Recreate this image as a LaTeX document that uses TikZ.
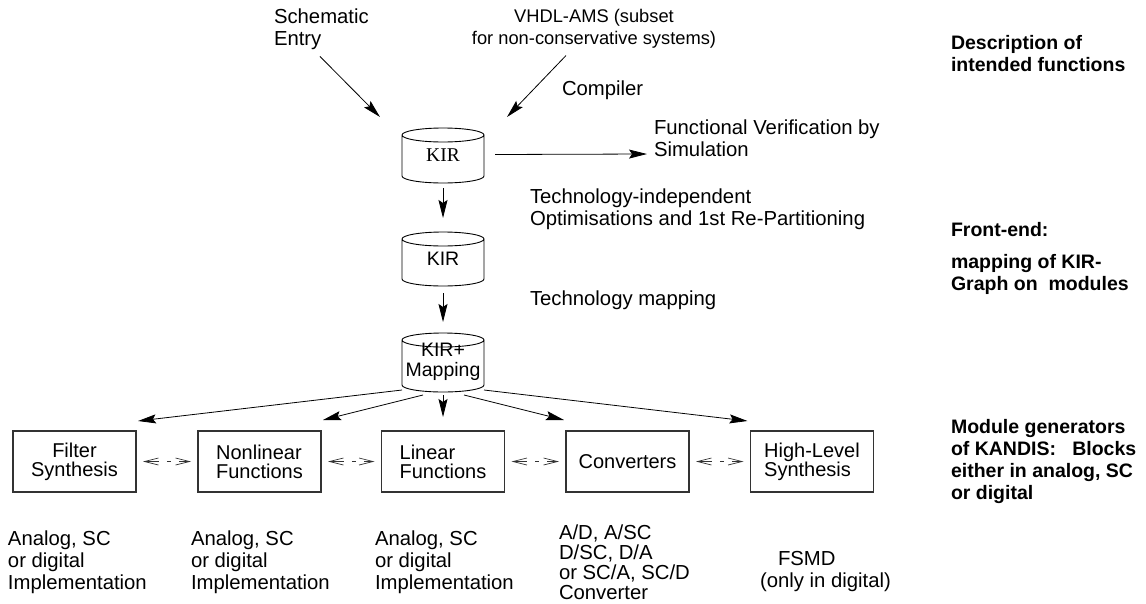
\documentclass[tikz,border=0pt]{standalone}
\usepackage{fontspec}
\setmainfont{Liberation Sans}
\newfontfamily\kirserif{Liberation Serif}
\usetikzlibrary{arrows.meta,calc}
\newcommand\drawcyl[1]{\draw[cylline] ([yshift=-7pt]#1.north west) arc[start angle=180,end angle=540,x radius=41pt,y radius=7pt] -- ([yshift=7pt]#1.south west) arc[start angle=180,end angle=360,x radius=41pt,y radius=7pt] -- ([yshift=-7pt]#1.north east);}
\begin{document}
\begin{tikzpicture}[x=1pt,y=1pt,
 every node/.style={inner sep=0pt, outer sep=0pt},
 txt/.style={font=\fontsize{20.3}{22}\selectfont, align=left},
 lbl/.style={font=\fontsize{19.5}{22}\selectfont\bfseries, align=left, anchor=west},
 box/.style={draw=black!80, line width=1.1pt, minimum width=123pt, minimum height=61pt, font=\fontsize{20}{19}\selectfont},
 cyl/.style={minimum width=82pt, font=\fontsize{19.5}{19}\selectfont},
 cylline/.style={line width=0.9pt},
 arr/.style={-{Stealth[length=18pt,width=9pt,inset=3pt]}, line width=0.8pt},
 dbl/.style={{Straight Barb[length=14pt,width=7pt]}-{Straight Barb[length=14pt,width=7pt]}, line width=0.7pt, black!80, dash pattern=on 14pt off 8pt on 4pt off 8pt, shorten <=7pt, shorten >=7pt},
]
\useasboundingbox (0,0) rectangle (1146,-603);

% texts at top
\node[txt, anchor=west] (sch) at (274,-29) {Schematic\\Entry};
\node[txt, align=center, font=\fontsize{18.3}{22}\selectfont] (vhdl) at (594,-29) {VHDL-AMS (subset\\for non-conservative systems)};
\node[txt, anchor=west] (comp) at (562,-90) {Compiler};
\node[txt, anchor=west] (fv) at (654,-138) {Functional Verification by\\Simulation};
\node[txt, anchor=west] (ti) at (530,-209) {Technology-independent\\Optimisations and 1st Re-Partitioning};
\node[txt, anchor=west] (tm) at (530,-300) {Technology mapping};

% cylinders
\node[cyl, minimum height=55pt] (k1) at (443,-155.5) {\raisebox{-7pt}{\kirserif KIR}};
\node[cyl, minimum height=54pt] (k2) at (443,-259) {\raisebox{-5pt}{KIR}};
\node[cyl, minimum height=59pt] (k3) at (443,-362.5) {\raisebox{-5pt}{\begin{tabular}{@{}c@{}}KIR+\\Mapping\end{tabular}}};
\drawcyl{k1}
\drawcyl{k2}
\drawcyl{k3}

% boxes
\node[box, align=center] (fs) at (74.5,-461.5) {Filter\\Synthesis};
\node[box, align=left] (nl) at (259.5,-461.5) {Nonlinear\\Functions};
\node[box, align=left] (lf) at (443,-461.5) {Linear\\Functions};
\node[box] (cv) at (627.5,-461.5) {Converters};
\node[box, align=left] (hl) at (812,-461.5) {High-Level\\Synthesis};

% bottom texts
\node[txt, anchor=west] (b1) at (8,-562) {Analog, SC\\or digital\\Implementation};
\node[txt, anchor=west] (b2) at (191,-562) {Analog, SC\\or digital\\Implementation};
\node[txt, anchor=west] (b3) at (375,-562) {Analog, SC\\or digital\\Implementation};
\node[txt, anchor=west, font=\fontsize{20.3}{20}\selectfont] (b4) at (559,-562) {A/D, A/SC\\D/SC, D/A\\or SC/A, SC/D\\Converter};
\node[txt, anchor=west] (b5) at (760,-571.5) {\hspace{18pt}FSMD\\(only in digital)};

% right labels
\node[lbl] (desc) at (951,-54) {Description of\\intended functions};
\node[lbl] (fe) at (951,-230) {Front-end:};
\node[lbl] (map) at (951,-274) {mapping of KIR-\\Graph on\ \ modules};
\node[lbl] (mg) at (951,-461) {Module generators\\of KANDIS:\ \ \ Blocks\\either in analog, SC\\or digital};

% arrows
\draw[arr] ($(sch.south west)+(46,-7)$) -- ($(k1.north west)+(-22,11)$);
\draw[arr] ($(vhdl.south)+(-28,-7)$) -- ($(k1.north east)+(23,11)$);
\draw[arr] ($(k1.east)+(11,1)$) -- ($(fv.west)+(-7,-16)$);
\draw[arr] ($(k1.south)+(0,-5)$) -- ($(k2.north)+(0,14)$);
\draw[arr] ($(k2.south)+(0,-7)$) -- ($(k3.north)+(0,11)$);
\draw[arr] ($(k3.south west)+(0,2)$) -- ($(fs.north east)+(2,10)$);
\draw[arr] ($(k3.south)+(-20,-3)$) -- ($(nl.north east)+(2,11)$);
\draw[arr] ($(k3.south)+(0,-3)$) -- ($(lf.north)+(0,14)$);
\draw[arr] ($(k3.south)+(21,-3)$) -- ($(cv.north west)+(-2,11)$);
\draw[arr] ($(k3.south east)+(0,2)$) -- ($(hl.north west)+(-3,10)$);

% double dashed connectors
\draw[dbl] (fs.east) -- (nl.west);
\draw[dbl] (nl.east) -- (lf.west);
\draw[dbl] (lf.east) -- (cv.west);
\draw[dbl] (cv.east) -- (hl.west);
\end{tikzpicture}
\end{document}
